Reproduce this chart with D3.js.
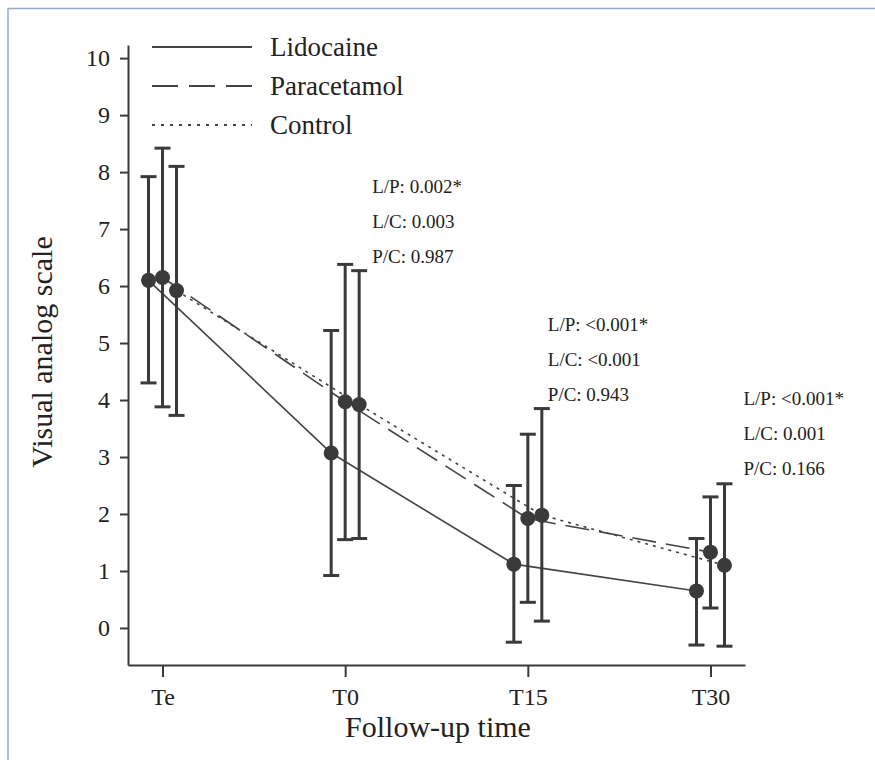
<!DOCTYPE html>
<html><head><meta charset="utf-8">
<script src="https://cdn.jsdelivr.net/npm/d3@7"></script>
<style>
body{margin:0;background:#fff;}
text{font-family:"Liberation Serif","Times New Roman",serif;fill:#222;}
</style></head>
<body><svg id="c" width="875" height="760"></svg>
<script>
const times = ["Te","T0","T15","T30"];
const groups = ["Lidocaine","Paracetamol","Control"];
const lidoMean = [6.10, 3.07, 1.12, 0.65];
const lidoLow  = [4.30, 0.92, -0.25, -0.30];
const lidoHigh = [7.92, 5.22, 2.50, 1.57];
const paraMean = [6.15, 3.97, 1.92, 1.33];
const paraLow  = [3.88, 1.55, 0.45, 0.35];
const paraHigh = [8.42, 6.38, 3.40, 2.30];
const ctrlMean = [5.92, 3.92, 1.98, 1.10];
const ctrlLow  = [3.73, 1.57, 0.12, -0.32];
const ctrlHigh = [8.10, 6.27, 3.85, 2.53];
const yTicks = [0,1,2,3,4,5,6,7,8,9,10];
const annTimes = ["T0","T15","T30"];
const annTexts = [
  ["L/P: 0.002*","L/C: 0.003","P/C: 0.987"],
  ["L/P: <0.001*","L/C: <0.001","P/C: 0.943"],
  ["L/P: <0.001*","L/C: 0.001","P/C: 0.166"]
];
const annLevel = [7.63, 5.21, 3.91];
const annDx = [27, 20, 33];

const series = [
  {name:groups[0], mean:lidoMean, low:lidoLow, high:lidoHigh, dash:null, legDash:null},
  {name:groups[1], mean:paraMean, low:paraLow, high:paraHigh, dash:"24,10", legDash:"26,11"},
  {name:groups[2], mean:ctrlMean, low:ctrlLow, high:ctrlHigh, dash:"3,5", legDash:"3,6"}
];

const svg = d3.select("#c");
const ink = "#3a3a3a";

// frame border
svg.append("path").attr("d","M8,760 L8,8.5 L875,8.5").attr("fill","none")
  .attr("stroke","#8eaadb").attr("stroke-width",1.5);

const x = d3.scalePoint().domain(times).range([128,745]).padding(0.189);
const off = d3.scalePoint().domain(groups).range([-14,14]);
const y = d3.scaleLinear().domain([-0.65,10.23]).range([665,45]);

// y axis
const ya = svg.append("g").attr("transform","translate(128,0)")
  .call(d3.axisLeft(y).tickValues(yTicks).tickSize(8).tickSizeOuter(0).tickPadding(10));
ya.selectAll("text").style("font-size","24px").style("font-family","Liberation Serif").attr("fill","#222");
// x axis
const xa = svg.append("g").attr("transform","translate(0,665)")
  .call(d3.axisBottom(x).tickSize(12).tickSizeOuter(0).tickPadding(11));
xa.selectAll("text").style("font-size","24px").style("font-family","Liberation Serif").attr("fill","#222");
[ya,xa].forEach(a=>{a.select(".domain").attr("stroke",ink).attr("stroke-width",2);
  a.selectAll(".tick line").attr("stroke",ink).attr("stroke-width",2);});

// titles
svg.append("text").attr("x",438).attr("y",737).attr("text-anchor","middle")
  .style("font-size","30px").text("Follow-up time");
svg.append("text").attr("transform","translate(52,352) rotate(-90)").attr("text-anchor","middle")
  .style("font-size","30px").text("Visual analog scale");

// lines
const line = d3.line();
series.forEach(s=>{
  svg.append("path")
    .attr("d", line(times.map((t,i)=>[x(t)+off(s.name), y(s.mean[i])])))
    .attr("fill","none").attr("stroke","#444").attr("stroke-width",1.6)
    .attr("stroke-dasharray", s.dash);
});

// error bars and dots
series.forEach(s=>{
  times.forEach((t,i)=>{
    const cx = x(t)+off(s.name);
    const g = svg.append("g").attr("stroke",ink).attr("stroke-width",3);
    g.append("line").attr("x1",cx).attr("x2",cx).attr("y1",y(s.low[i])).attr("y2",y(s.high[i]));
    g.append("line").attr("x1",cx-8).attr("x2",cx+8).attr("y1",y(s.low[i])).attr("y2",y(s.low[i]));
    g.append("line").attr("x1",cx-8).attr("x2",cx+8).attr("y1",y(s.high[i])).attr("y2",y(s.high[i]));
    svg.append("circle").attr("cx",cx).attr("cy",y(s.mean[i])).attr("r",7.5).attr("fill",ink);
  });
});

// annotations
annTimes.forEach((t,j)=>{
  annTexts[j].forEach((l,k)=>{
    svg.append("text").attr("x",x(t)+annDx[j]).attr("y",y(annLevel[j])+k*35)
      .style("font-size","19px").text(l);
  });
});

// legend
series.forEach((s,k)=>{
  const ly = 47 + k*39;
  svg.append("line").attr("x1",152).attr("x2",252).attr("y1",ly).attr("y2",ly)
    .attr("stroke","#444").attr("stroke-width",1.8).attr("stroke-dasharray", s.legDash);
  svg.append("text").attr("x",270).attr("y",ly+9).style("font-size","27px").text(s.name);
});
</script></body></html>
